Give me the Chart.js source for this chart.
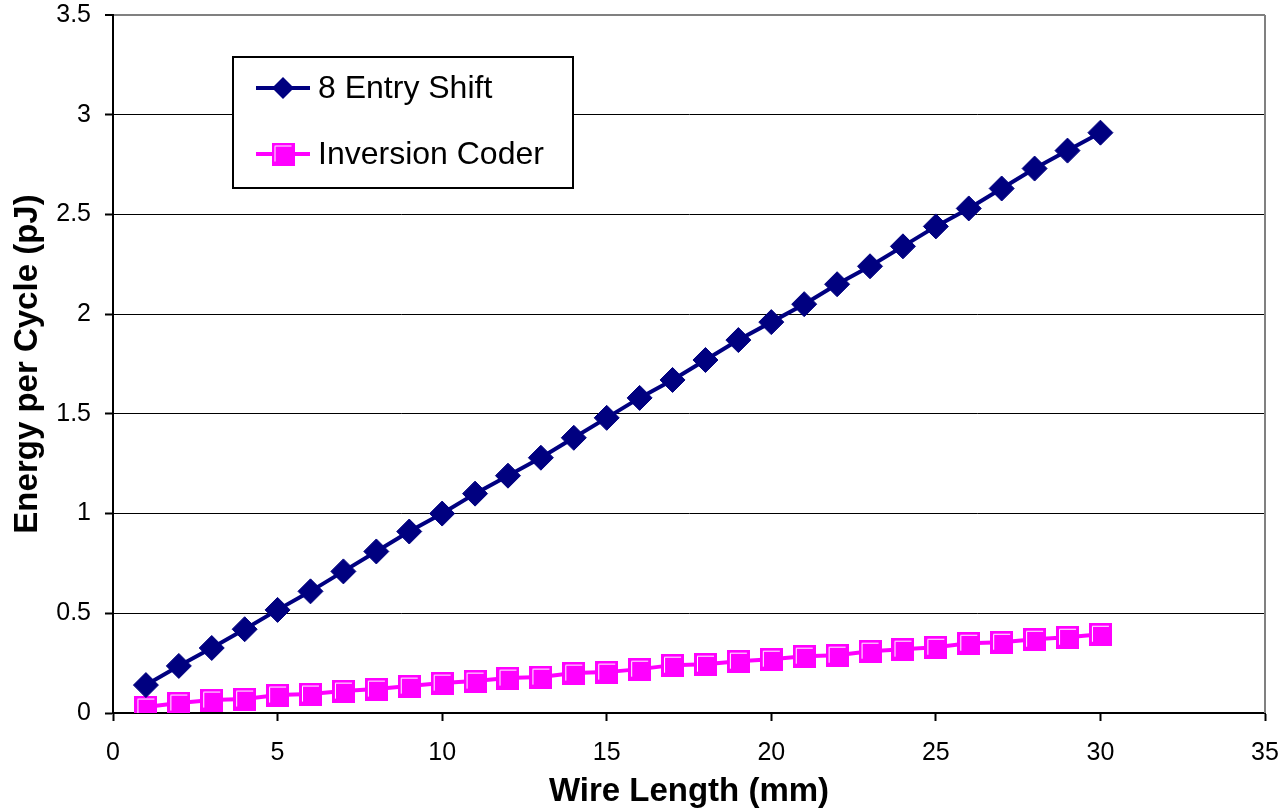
<!DOCTYPE html>
<html>
<head>
<meta charset="utf-8">
<script src="https://cdn.jsdelivr.net/npm/chart.js@4"></script>
<style>
  body { margin: 0; background: #fff; }
  canvas { display: block; }
</style>
</head>
<body>
<canvas id="energy-chart" width="1286" height="812"></canvas>
<script>
// data
const wireLength = [1,2,3,4,5,6,7,8,9,10,11,12,13,14,15,16,17,18,19,20,21,22,23,24,25,26,27,28,29,30];
const entryShift = [0.14,0.236,0.326,0.42,0.517,0.61,0.71,0.81,0.91,1.0,1.10,1.19,1.28,1.38,1.48,
                    1.58,1.67,1.77,1.87,1.96,2.05,2.15,2.24,2.34,2.44,2.53,2.63,2.73,2.82,2.91];
const inversionCoder = [0.03,0.05,0.065,0.07,0.09,0.095,0.11,0.12,0.135,0.15,0.16,0.175,0.18,0.20,0.205,
                        0.22,0.24,0.245,0.26,0.27,0.285,0.29,0.31,0.32,0.33,0.35,0.355,0.37,0.38,0.395];
const xTicks = [0,5,10,15,20,25,30,35];
const yTicks = [0,0.5,1,1.5,2,2.5,3,3.5];
const seriesNames = ['8 Entry Shift', 'Inversion Coder'];

const FONT = "'Liberation Sans', Arial, sans-serif";
const NAVY = '#000080';
const MAGENTA = '#FF00FF';

// square marker with the little white highlight
function makeSquare(){
    const c = document.createElement('canvas');
    c.width = 23; c.height = 23;
    const g = c.getContext('2d');
    g.fillStyle = MAGENTA;
    g.fillRect(0, 0, 23, 23);
    g.strokeStyle = '#fff';
    g.lineWidth = 1;
    g.beginPath();
    g.moveTo(3.5, 19);
    g.lineTo(3.5, 3.5);
    g.lineTo(20, 3.5);
    g.stroke();
    return c;
}
const squareMarker = makeSquare();

function toPoints(ys){
    return wireLength.map((x, i) => ({x: x, y: ys[i]}));
}

// right border + legend box inside the plot
const framePlugin = {
    id: 'frame',
    afterDraw(chart){
        const ctx = chart.ctx;
        const a = chart.chartArea;
        ctx.save();
        ctx.strokeStyle = '#808080';
        ctx.lineWidth = 2;
        ctx.beginPath();
        ctx.moveTo(a.right, a.top);
        ctx.lineTo(a.right, a.bottom);
        ctx.stroke();

        // legend
        const bx = 233, by = 57, bw = 340, bh = 131;
        ctx.fillStyle = '#fff';
        ctx.fillRect(bx, by, bw, bh);
        ctx.strokeStyle = '#000';
        ctx.lineWidth = 2;
        ctx.strokeRect(bx, by, bw, bh);

        const rows = [88, 154];
        ctx.font = '32px ' + FONT;
        ctx.textBaseline = 'middle';
        ctx.textAlign = 'left';
        rows.forEach((ry, i) => {
            ctx.strokeStyle = i === 0 ? NAVY : MAGENTA;
            ctx.lineWidth = 4;
            ctx.beginPath();
            ctx.moveTo(256, ry);
            ctx.lineTo(310, ry);
            ctx.stroke();
            if(i === 0){
                ctx.fillStyle = NAVY;
                ctx.beginPath();
                ctx.moveTo(283, ry - 11);
                ctx.lineTo(294, ry);
                ctx.lineTo(283, ry + 11);
                ctx.lineTo(272, ry);
                ctx.closePath();
                ctx.fill();
            } else {
                ctx.drawImage(squareMarker, 283 - 11.5, ry - 11.5);
            }
            ctx.fillStyle = '#000';
            ctx.fillText(seriesNames[i], 318, ry + 1);
        });
        ctx.restore();
    }
};

const data = {
    datasets: [{
        label: seriesNames[0],
        data: toPoints(entryShift),
        borderColor: NAVY,
        backgroundColor: NAVY,
        borderWidth: 4,
        pointStyle: 'rectRot',
        pointRadius: 12.5,
        pointBorderWidth: 1
    },{
        label: seriesNames[1],
        data: toPoints(inversionCoder),
        borderColor: MAGENTA,
        backgroundColor: MAGENTA,
        borderWidth: 4,
        pointStyle: squareMarker,
        pointRadius: 11
    }]
};

const options = {
    responsive: false,
    animation: false,
    layout: { padding: { top: 15, right: 21, left: 0, bottom: 0 } },
    plugins: {
        legend: { display: false },
        tooltip: { enabled: false }
    },
    scales: {
        x: {
            type: 'linear',
            min: 0,
            max: 35,
            afterBuildTicks: s => { s.ticks = xTicks.map(v => ({value: v})); },
            afterFit: s => { s.height = 99; s.paddingLeft = 0; s.paddingRight = 0; },
            grid: {
                drawOnChartArea: false,
                drawTicks: true,
                tickLength: 8,
                tickColor: '#000',
                tickWidth: 2
            },
            border: { display: true, color: '#000', width: 2 },
            ticks: {
                color: '#000',
                padding: 17,
                font: { family: FONT, size: 25 },
                callback: v => String(v)
            },
            title: {
                display: true,
                text: 'Wire Length (mm)',
                color: '#000',
                padding: { top: 0, bottom: 0 },
                font: { family: FONT, size: 33, weight: 'bold' }
            }
        },
        y: {
            min: 0,
            max: 3.5,
            afterBuildTicks: s => { s.ticks = yTicks.map(v => ({value: v})); },
            afterFit: s => { s.width = 113; s.paddingTop = 0; s.paddingBottom = 0; },
            grid: {
                color: c => (c.tick && c.tick.value === 3.5) ? '#808080' : '#000',
                lineWidth: c => (c.tick && c.tick.value === 3.5) ? 2 : 1,
                tickLength: 8,
                tickColor: '#000',
                tickWidth: 2
            },
            border: { display: true, color: '#000', width: 2 },
            ticks: {
                color: '#000',
                padding: 14,
                font: { family: FONT, size: 25 },
                callback: v => String(v)
            },
            title: {
                display: true,
                text: 'Energy per Cycle (pJ)',
                color: '#000',
                padding: { top: 8, bottom: 8 },
                font: { family: FONT, size: 33, weight: 'bold' }
            }
        }
    }
};

const energyChart = new Chart(document.getElementById('energy-chart').getContext('2d'), {
    type: 'line',
    data: data,
    options: options,
    plugins: [framePlugin]
});
</script>
</body>
</html>
